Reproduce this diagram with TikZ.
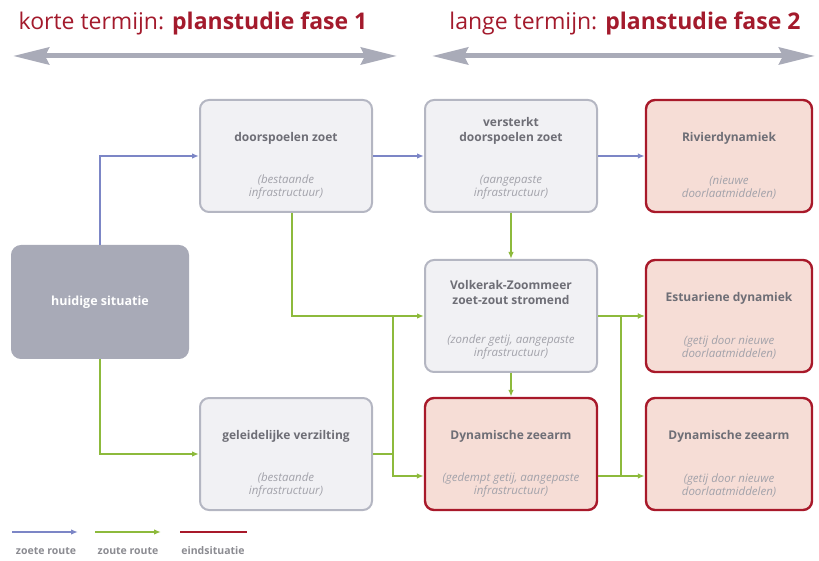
\documentclass[tikz,border=0pt]{standalone}
\usepackage{fontspec}
\setmainfont{Open Sans}
\usetikzlibrary{arrows.meta}

\definecolor{kopRood}{HTML}{A31A2C}
\definecolor{pijlGrijs}{HTML}{A9ABB8}
\definecolor{huidigGrijs}{HTML}{A8AAB7}
\definecolor{zoetBlauw}{HTML}{7C86C6}
\definecolor{zoutGroen}{HTML}{8DBA3C}
\definecolor{vakGrijs}{HTML}{F1F1F4}
\definecolor{randGrijs}{HTML}{B4B6C2}
\definecolor{vakRood}{HTML}{F6DDD6}
\definecolor{randRood}{HTML}{A8192A}
\definecolor{tekstGrijs}{HTML}{6E6E76}
\definecolor{cursiefGrijs}{HTML}{A2A2AA}

\begin{document}
\begin{tikzpicture}[x=1pt,y=1pt,
    vak/.style={draw=randGrijs, fill=vakGrijs, line width=2pt, rounded corners=9pt,
        minimum width=172pt, minimum height=112pt, inner sep=0pt},
    eind/.style={vak, draw=randRood, fill=vakRood, line width=2.4pt},
    start/.style={vak, draw=huidigGrijs, fill=huidigGrijs, minimum width=176pt,
        text=white, font=\fontsize{12.5}{15}\selectfont\bfseries},
    kop/.style={font=\fontsize{12}{15}\selectfont\bfseries, text=tekstGrijs,
        align=center, anchor=south, inner sep=0pt},
    sub/.style={font=\fontsize{11.5}{13}\selectfont\itshape, text=cursiefGrijs,
        align=center, inner sep=0pt},
    zoutlijn/.style={draw=zoutGroen, line width=2pt},
    zoet/.style={draw=zoetBlauw, line width=2pt, -{Latex[length=7pt,width=5.5pt]}},
    zout/.style={zoutlijn, -{Latex[length=7pt,width=5.5pt]}},
    fase/.style={draw=pijlGrijs, line width=5pt,
        {Stealth[length=36pt,width=17pt,inset=4pt]}-{Stealth[length=36pt,width=17pt,inset=4pt]}},
    titel/.style={text=kopRood, font=\fontsize{23}{27}\selectfont},
    legenda/.style={text=tekstGrijs!80, font=\fontsize{10.5}{12}\selectfont\bfseries}
  ]
    \useasboundingbox (0,0) rectangle (819,560);

    % Planstudie fases
    \node[titel] (kort) at (193,537) {korte termijn: \textbf{planstudie fase 1}};
    \node[titel] (lang) at (625,537) {lange termijn: \textbf{planstudie fase 2}};
    \draw[fase] (13,504) -- (397,504);
    \draw[fase] (432,504) -- (815,504);

    % Vakken
    \node[start] (hs) at (100,258) {huidige situatie};
    \node[vak] (ds) at (286,404) {};
    \node[vak] (vd) at (511,404) {};
    \node[eind, minimum width=166pt] (rd) at (729,404) {};
    \node[vak] (vz) at (511,244) {};
    \node[eind, minimum width=166pt] (ed) at (729,244) {};
    \node[vak] (gv) at (286,106) {};
    \node[eind] (dz1) at (511,106) {};
    \node[eind, minimum width=166pt] (dz2) at (729,106) {};

    % Teksten in de vakken
    \foreach \n/\k/\s in {
        ds/{doorspoelen zoet}/{(bestaande\\infrastructuur)},
        vd/{versterkt\\doorspoelen zoet}/{(aangepaste\\infrastructuur)},
        rd/{Rivierdynamiek}/{(nieuwe\\doorlaatmiddelen)},
        vz/{Volkerak-Zoommeer\\zoet-zout stromend}/{(zonder getij, aangepaste\\infrastructuur)},
        ed/{Estuariene dynamiek}/{(getij door nieuwe\\doorlaatmiddelen)},
        gv/{geleidelijke verzilting}/{(bestaande\\infrastructuur)},
        dz1/{Dynamische zeearm}/{(gedempt getij, aangepaste\\infrastructuur)},
        dz2/{Dynamische zeearm}/{(getij door nieuwe\\doorlaatmiddelen)}}{
      \node[kop] (\n-k) at ([yshift=-46]\n.north) {\k};
      \node[sub] (\n-s) at ([yshift=26]\n.south) {\s};
    }

    % Zoete route
    \draw[zoet] (hs.north) |- (ds.west);
    \draw[zoet] (ds) -- (vd);
    \draw[zoet] (vd) -- (rd);

    % Zoute route
    \draw[zout] (hs.south) |- (gv.west);
    \draw[zout] ([xshift=6]ds.south) |- (vz.west);
    \draw[zout] (vd) -- (vz);
    \draw[zout] (vz) -- (dz1);
    \draw[zout] (vz.east) -- (ed.west);
    \coordinate (s1) at ([xshift=20]gv.east);
    \coordinate (k1) at ([yshift=-22]dz1.west);
    \draw[zoutlijn] (gv.east) -- (s1);
    \draw[zout] (s1 |- vz.west) |- (k1);
    \coordinate (t2) at ([yshift=-22]dz1.east);
    \coordinate (s2) at ([xshift=23]t2);
    \draw[zout] (t2) -- (t2 -| dz2.west);
    \draw[zout] (s2) |- (ed.west);

    % Legenda
    \coordinate (l1) at (12,28);
    \coordinate (l2) at (95,28);
    \coordinate (l3) at (180,28);
    \draw[zoet] (l1) -- ++(66,0);
    \draw[zout] (l2) -- ++(66,0);
    \draw[draw=randRood, line width=2.4pt] (l3) -- ++(67,0);
    \node[legenda] (lg-zoet) at (46,9) {zoete route};
    \node[legenda] (lg-zout) at (128,9) {zoute route};
    \node[legenda] (lg-eind) at (213,9) {eindsituatie};
\end{tikzpicture}
\end{document}
